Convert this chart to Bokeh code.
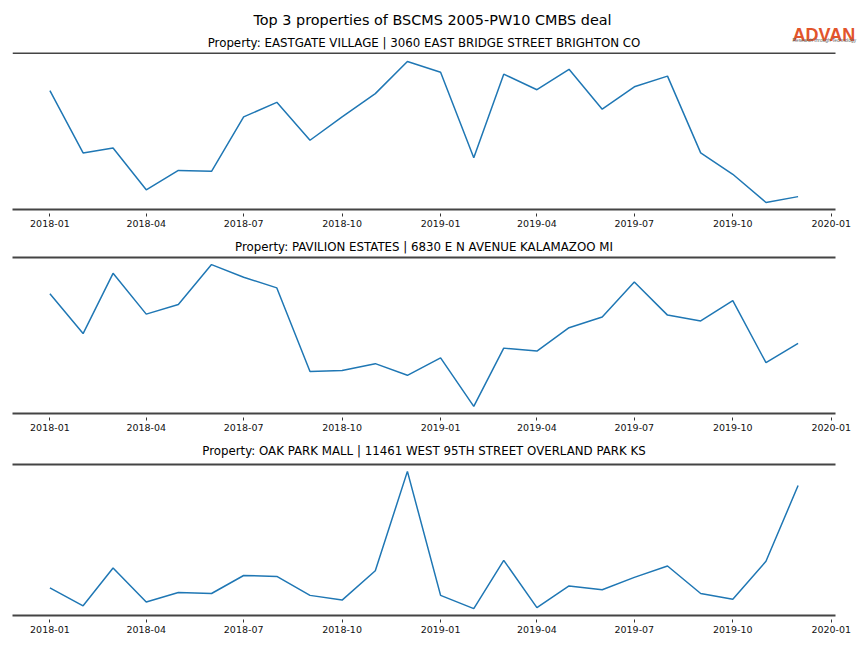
import pandas as pd
from bokeh.plotting import figure
from bokeh.models import (Range1d, FixedTicker, DatetimeTickFormatter, LinearAxis,
                          Title, ColumnDataSource)
from bokeh.core.properties import value
from bokeh.layouts import column
from bokeh.embed import file_html
from bokeh.resources import INLINE

suptitle = "Top 3 properties of BSCMS 2005-PW10 CMBS deal"
titles = [
    "Property: EASTGATE VILLAGE | 3060 EAST BRIDGE STREET BRIGHTON CO",
    "Property: PAVILION ESTATES | 6830 E N AVENUE KALAMAZOO MI",
    "Property: OAK PARK MALL | 11461 WEST 95TH STREET OVERLAND PARK KS",
]
logo_text = "ADVAN"
logo_tagline = "Research through Technology"
months = ["2018-01", "2018-02", "2018-03", "2018-04", "2018-05", "2018-06",
          "2018-07", "2018-08", "2018-09", "2018-10", "2018-11", "2018-12",
          "2019-01", "2019-02", "2019-03", "2019-04", "2019-05", "2019-06",
          "2019-07", "2019-08", "2019-09", "2019-10", "2019-11", "2019-12"]
eastgate = [119, 55, 60, 17, 37, 36, 92, 107, 68, 92, 116, 149,
            138, 50, 136, 120, 141, 100, 123, 134, 55, 33, 4, 10]
pavilion = [120, 79, 141, 99, 109, 150, 137, 126, 40, 41, 48, 36,
            54, 4, 64, 61, 85, 96, 132, 98, 92, 113, 49, 69]
oakpark = [25, 6, 46, 10, 20, 19, 38, 37, 17, 12, 43, 148,
           17, 3, 54, 4, 27, 23, 36, 48, 19, 13, 53, 133]
tick_labels = ["2018-01", "2018-04", "2018-07", "2018-10", "2019-01",
               "2019-04", "2019-07", "2019-10", "2020-01"]

series = [eastgate, pavilion, oakpark]
dates = pd.to_datetime(months, format="%Y-%m")
span = dates.max() - dates.min()
x_start = dates.min() - span * 0.05
x_end = dates.max() + span * 0.05
tick_ms = [pd.Timestamp(t + "-01").value // 10**6 for t in tick_labels]

FONT = "DejaVu Sans"
SPINE = "#444444"
SUB_SIZE = "11.8px"
LEFT, FRAME_W, RIGHT = 12, 823, 21
HEAD_W = 862

# ---- header (suptitle, logo, first subplot title and its top spine) ----
HEAD_H = 54
head = figure(x_range=Range1d(LEFT, HEAD_W), y_range=Range1d(HEAD_H, 0),
              frame_width=HEAD_W - LEFT, frame_height=HEAD_H,
              min_border_left=LEFT, min_border_right=0, min_border_top=0,
              min_border_bottom=0, x_axis_location=None, y_axis_location=None,
              toolbar_location=None, output_backend="svg")
head.grid.visible = False
head.outline_line_color = None
head.text(x=[432], y=[19.5], text=[suptitle], text_font=value(FONT),
          text_font_size="14.4px", text_align="center", text_baseline="middle",
          text_color="#000000")
head.text(x=[LEFT + FRAME_W / 2], y=[42], text=[titles[0]], text_font=value(FONT),
          text_font_size=SUB_SIZE, text_align="center", text_baseline="middle",
          text_color="#000000")
head.text(x=[792], y=[34.5], text=[logo_text], text_font=value("Liberation Sans"),
          text_font_style="bold", text_font_size="18px", text_align="left",
          text_baseline="alphabetic", text_color="#e2542b")
head.text(x=[792], y=[40], text=[logo_tagline], text_font=value("Liberation Sans"),
          text_font_size="4.8px", text_align="left", text_baseline="alphabetic",
          text_color="#666666")
head.segment(x0=[LEFT], y0=[53], x1=[LEFT + FRAME_W], y1=[53],
             line_color=SPINE, line_width=2)

frame_heights = [155, 156, 151]
tops = [0, 24, 29]
bottoms = [24, 22, 25]
standoffs = [7, 7, 13]

figs = [head]
for i, (vals, ttl) in enumerate(zip(series, titles)):
    lo, hi = min(vals), max(vals)
    pad = (hi - lo) * 0.05
    p = figure(title=None, x_axis_type="datetime", y_axis_location=None,
               x_range=Range1d(x_start, x_end), y_range=Range1d(lo - pad, hi + pad),
               frame_width=FRAME_W, frame_height=frame_heights[i],
               min_border_left=LEFT, min_border_right=RIGHT,
               min_border_top=tops[i], min_border_bottom=bottoms[i],
               toolbar_location=None, output_backend="svg")
    p.grid.visible = False
    p.outline_line_color = None

    src = ColumnDataSource(dict(x=dates, y=vals))
    p.line("x", "y", source=src, line_color="#1f77b4", line_width=1.5)

    xa = p.xaxis[0]
    xa.ticker = FixedTicker(ticks=tick_ms)
    xa.formatter = DatetimeTickFormatter(
        milliseconds="%Y-%m", seconds="%Y-%m", minsec="%Y-%m", minutes="%Y-%m",
        hourmin="%Y-%m", hours="%Y-%m", days="%Y-%m", months="%Y-%m", years="%Y-%m")
    xa.axis_line_color = SPINE
    xa.axis_line_width = 2
    xa.major_tick_in = -4
    xa.major_tick_out = 7
    xa.major_tick_line_color = "#333333"
    xa.minor_tick_line_color = None
    xa.major_label_standoff = 3
    xa.major_label_text_font = FONT
    xa.major_label_text_font_size = "9.5px"
    xa.major_label_text_color = "#111111"

    if i > 0:
        top_axis = LinearAxis(ticker=FixedTicker(ticks=[]), axis_line_color=SPINE,
                              axis_line_width=2, major_tick_in=0, major_tick_out=0,
                              minor_tick_in=0, minor_tick_out=0,
                              major_label_text_font_size="0px")
        p.add_layout(top_axis, "above")
        p.add_layout(Title(text=ttl, align="center", text_font=FONT,
                           text_font_size=SUB_SIZE, text_font_style="normal",
                           text_color="#000000", standoff=standoffs[i]), "above")
    figs.append(p)

layout = column(*figs, spacing=0)
open("out.html", "w").write(file_html(layout, INLINE))
